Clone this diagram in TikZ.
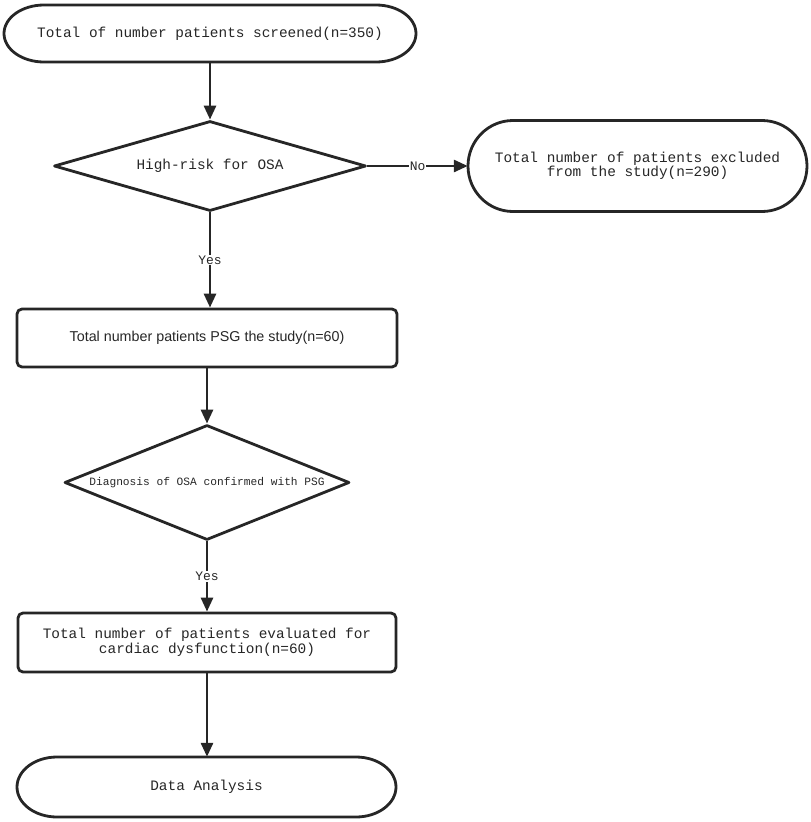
\documentclass[tikz,border=0pt]{standalone}
\usepackage{fontspec}
\setmainfont{Liberation Sans}
\setmonofont{Liberation Mono}
\usetikzlibrary{shapes.geometric,arrows.meta}
\definecolor{ink}{HTML}{262626}
\definecolor{txt}{HTML}{262626}
\begin{document}
\begin{tikzpicture}[x=1pt,y=1pt,
  outline/.style={draw=ink,line width=2.8pt,line join=round},
  holder/.style={draw=none,inner sep=0pt,align=center,text=txt,font=\ttfamily\fontsize{14.4}{14.5}\selectfont},
  boxstyle/.style={outline,rounded corners=5pt,inner sep=0pt,align=center,text=txt},
  diam/.style={outline,diamond,inner sep=0pt,align=center,text=txt},
  arr/.style={draw=ink,line width=2.8pt,-{Triangle[length=14pt,width=12pt]}},
  lbl/.style={fill=white,inner sep=1pt,text=txt,font=\ttfamily\fontsize{13}{13}\selectfont}]
\useasboundingbox (0,0) rectangle (811,-822);
% terminator outlines
\draw[outline] (44,-5) -- (376,-5) arc[start angle=90,end angle=-90,x radius=40,y radius=28.5] -- (44,-62) arc[start angle=270,end angle=90,x radius=40,y radius=28.5] -- cycle;
\draw[outline] (513,-120.5) -- (762,-120.5) arc[start angle=90,end angle=-90,x radius=45,y radius=45.5] -- (513,-211.5) arc[start angle=270,end angle=90,x radius=45,y radius=45.5] -- cycle;
\draw[outline] (57,-757) -- (356,-757) arc[start angle=90,end angle=-90,x radius=40,y radius=30] -- (57,-817) arc[start angle=270,end angle=90,x radius=40,y radius=30] -- cycle;
% nodes
\node[holder,minimum width=412pt,minimum height=57pt] (t1) at (210,-33.5) {Total of number patients screened(n=350)};
\node[diam,aspect=3.47,minimum width=312pt,minimum height=90pt,font=\ttfamily\fontsize{14.4}{14.5}\selectfont] (d1) at (210,-166) {High-risk for OSA};
\node[holder,minimum width=339pt,minimum height=91pt] (t2) at (637.5,-166) {Total number of patients excluded\\from the study(n=290)};
\node[boxstyle,minimum width=380pt,minimum height=58pt,font=\fontsize{14.3}{16}\selectfont] (r1) at (207,-338) {Total number patients PSG the study(n=60)};
\node[diam,aspect=2.48,minimum width=285pt,minimum height=115pt,font=\ttfamily\fontsize{11.2}{12}\selectfont] (d2) at (207,-482.5) {Diagnosis of OSA confirmed with PSG};
\node[boxstyle,minimum width=378pt,minimum height=59pt,font=\ttfamily\fontsize{14.4}{14.5}\selectfont] (r2) at (207,-642.5) {Total number of patients evaluated for\\cardiac dysfunction(n=60)};
\node[holder,minimum width=379pt,minimum height=60pt] (t3) at (206.5,-787) {Data Analysis};
% connectors
\draw[arr] (t1) -- (d1);
\draw[arr] (d1.east) -- node[lbl]{No} (d1.east -| t2.west);
\draw[arr] (d1.south) -- node[lbl]{Yes} (d1.south |- r1.north);
\draw[arr] (r1.south) -- (d2.north);
\draw[arr] (d2.south) -- node[lbl]{Yes} (r2.north);
\draw[arr] (r2.south) -- (r2.south |- t3.north);
\end{tikzpicture}
\end{document}
